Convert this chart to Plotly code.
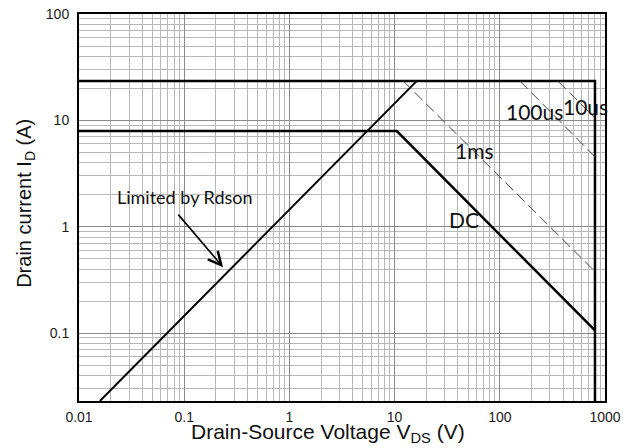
import numpy as np
import plotly.graph_objects as go

# ---- data (SOA chart) ----
rdson_v = [0.0158, 16.2]
rdson_i = [0.023, 23.4]

limit_v = [0.01, 803, 803]
limit_i = [23.4, 23.4, 0.02]

dc_v = [0.01, 10.5, 803]
dc_i = [7.93, 7.93, 0.106]

ms1_v = [12.1, 803]
ms1_i = [23.4, 0.38]

us100_v = [155.6, 803]
us100_i = [23.4, 4.55]

us10_v = [357, 803]
us10_i = [23.4, 10.5]

x_ticks = [0.01, 0.1, 1, 10, 100, 1000]
x_ticktext = ["0.01", "0.1", "1", "10", "100", "1000"]
y_ticks = [0.1, 1, 10, 100]
y_ticktext = ["0.1", "1", "10", "100"]

label_text = ["1ms", "100us", "10us", "DC"]
label_v = [56.9, 216, 646, 45.7]
label_i = [5.26, 12.2, 13.6, 1.18]

note_text = "Limited by Rdson"
note_v, note_i = 0.102, 1.90
arrow_v, arrow_i = 0.234, 0.417

x_minor = [m * 10.0 ** d for d in range(-2, 3) for m in range(2, 10)]
y_minor = [m * 10.0 ** d for d in range(-2, 2) for m in range(2, 10)]

fig = go.Figure()
solid = dict(color="black", width=2.5)
dash = dict(color="#444444", width=1, dash="11px,5px")

fig.add_trace(go.Scatter(x=rdson_v, y=rdson_i, mode="lines", line=dict(color="black", width=2)))
fig.add_trace(go.Scatter(x=limit_v, y=limit_i, mode="lines", line=solid))
fig.add_trace(go.Scatter(x=dc_v, y=dc_i, mode="lines", line=solid))
fig.add_trace(go.Scatter(x=ms1_v, y=ms1_i, mode="lines", line=dash))
fig.add_trace(go.Scatter(x=us100_v, y=us100_i, mode="lines", line=dash))
fig.add_trace(go.Scatter(x=us10_v, y=us10_i, mode="lines", line=dash))

annotations = []
for t, v, i in zip(label_text, label_v, label_i):
    annotations.append(dict(x=np.log10(v), y=np.log10(i), text=t, showarrow=False,
                            font=dict(family="Lato", size=21, color="#111111"),
                            xanchor="center", yanchor="middle"))
annotations.append(dict(x=np.log10(note_v), y=np.log10(note_i), text=note_text, showarrow=False,
                        font=dict(family="Lato", size=18, color="#111111"),
                        xanchor="center", yanchor="middle"))
annotations.append(dict(x=np.log10(arrow_v), y=np.log10(arrow_i), text="", showarrow=True,
                        ax=-46, ay=-54, arrowhead=5, arrowsize=1.6, arrowwidth=1.6,
                        arrowcolor="black"))
annotations.append(dict(x=0.473, y=-0.082, xref="paper", yref="paper",
                        text="Drain-Source Voltage V<sub>DS</sub> (V)", showarrow=False,
                        font=dict(family="Liberation Sans, Arial", size=21, color="#111111"),
                        xanchor="center", yanchor="middle"))
annotations.append(dict(x=-0.1008, y=0.512, xref="paper", yref="paper", textangle=-90,
                        text="Drain current I<sub>D</sub> (A)", showarrow=False,
                        font=dict(family="Liberation Sans, Arial", size=20, color="#111111"),
                        xanchor="center", yanchor="middle"))

# page body has an 8px margin, so the figure is sized/margined to compensate
fig.update_layout(
    width=630, height=440,
    margin=dict(l=71, r=33, t=6, b=47, autoexpand=False),
    paper_bgcolor="white", plot_bgcolor="white",
    showlegend=False,
    annotations=annotations,
    font=dict(family="Liberation Sans, Arial", size=14, color="#1a1a1a"),
)
fig.update_xaxes(
    type="log", range=[-2, 3], automargin=False,
    tickmode="array", tickvals=x_ticks, ticktext=x_ticktext,
    ticks="", ticklabelstandoff=2, ticklabeloverflow="allow",
    showgrid=True, gridcolor="#8a8a8a", gridwidth=1,
    minor=dict(tickmode="array", tickvals=x_minor, showgrid=True, gridcolor="#b8b8b8", gridwidth=1, ticks=""),
    showline=True, linecolor="black", linewidth=2, mirror=True,
    zeroline=False, tickfont=dict(size=14),
)
fig.update_yaxes(
    type="log", range=[np.log10(0.023), 2], automargin=False,
    tickmode="array", tickvals=y_ticks, ticktext=y_ticktext,
    ticks="", ticklabelstandoff=5, ticklabeloverflow="allow",
    showgrid=True, gridcolor="#8a8a8a", gridwidth=1,
    minor=dict(tickmode="array", tickvals=y_minor, showgrid=True, gridcolor="#b8b8b8", gridwidth=1, ticks=""),
    showline=True, linecolor="black", linewidth=2, mirror=True,
    zeroline=False, tickfont=dict(size=14),
)

fig.write_html("out.html")
